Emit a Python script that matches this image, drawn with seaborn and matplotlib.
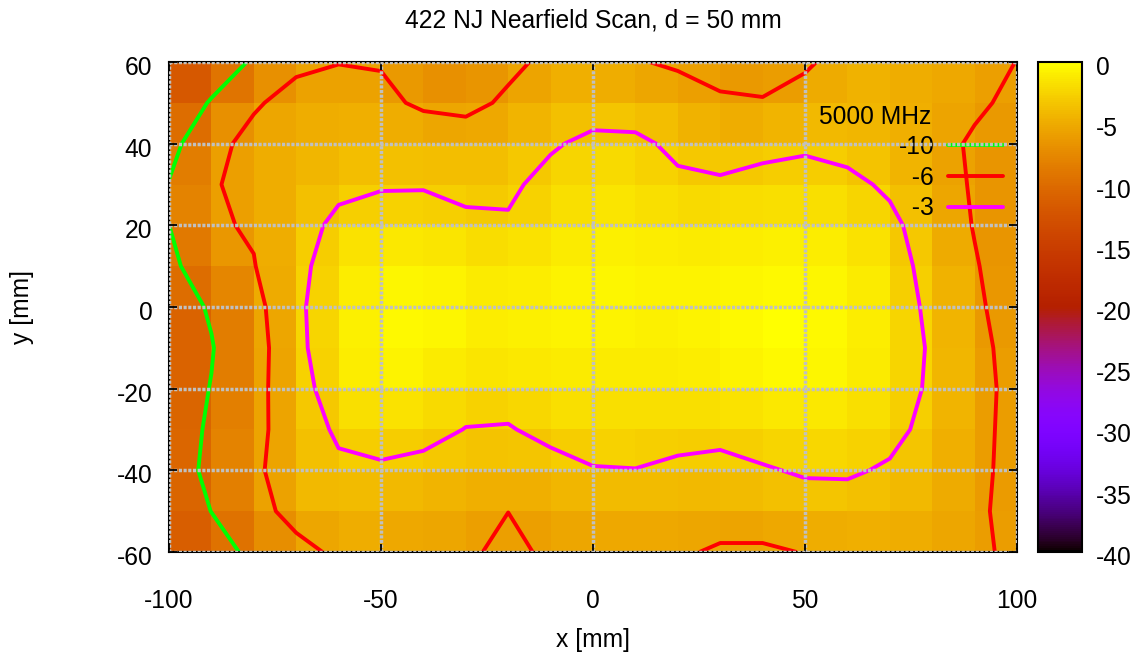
import numpy as np
import pandas as pd
import matplotlib
matplotlib.use("Agg")
import matplotlib.pyplot as plt
import matplotlib.transforms as mtransforms
from matplotlib.lines import Line2D
import seaborn as sns

# scan positions in mm (columns left->right, rows top->bottom)
x_mm = [-100, -90, -80, -70, -60, -50, -40, -30, -20, -10, 0,
        10, 20, 30, 40, 50, 60, 70, 80, 90, 100]
y_mm = [60, 50, 40, 30, 20, 10, 0, -10, -20, -30, -40, -50, -60]

# relative level in dB at each scan point, one list per y row
level_y60 = [-14.5, -11.5, -9.7, -6.4, -6.05, -6.2, -7.2, -7.3, -6.7, -5.3, -4.9,
             -5.8, -6.4, -7.0, -7.2, -6.5, -4.65, -4.9, -5.0, -5.4, -6.03]
level_y50 = [-11.8, -9.8, -6.23, -5.32, -5.2, -5.3, -6.5, -6.9, -5.47, -4.7, -4.3,
             -4.6, -4.58, -5.61, -5.8, -4.65, -4.5, -4.6, -5.0, -5.68, -6.44]
level_y40 = [-11.46, -6.59, -5.41, -4.8, -4.3, -4.0, -4.0, -4.25, -4.1, -3.31, -2.36,
             -2.38, -3.65, -4.34, -3.74, -3.33, -3.83, -4.4, -5.3, -6.27, -7.0]
level_y30 = [-9.8, -6.25, -5.2, -4.5, -3.6, -3.2, -3.2, -3.6, -3.49, -2.16, -1.6,
             -1.8, -2.45, -2.6, -2.2, -2.2, -2.4, -3.4, -4.89, -6.24, -7.2]
level_y20 = [-10.02, -6.3, -5.77, -4.07, -2.4, -1.95, -1.77, -2.51, -2.7, -1.9, -1.3,
             -1.2, -1.6, -1.7, -1.3, -1.2, -1.5, -2.42, -4.28, -6.13, -7.3]
level_y10 = [-10.78, -8.0, -6.1, -3.88, -1.37, -0.7, -0.6, -1.2, -1.3, -0.9, -0.6,
             -0.6, -0.9, -0.8, -0.5, -0.5, -0.8, -1.94, -3.87, -5.8, -7.5]
level_y0 = [-11.5, -9.69, -6.99, -3.45, -1.5, -0.4, -0.3, -0.9, -1.2, -0.7, -0.5,
            -0.7, -0.8, -0.4, -0.2, -0.1, -0.5, -1.63, -3.56, -5.48, -7.41]
level_ym10 = [-11.8, -10.17, -7.31, -3.67, -1.2, -0.5, -0.4, -0.8, -1.0, -0.8, -0.7,
              -0.8, -0.9, -0.5, -0.2, -0.1, -0.6, -1.44, -3.32, -5.18, -7.04]
level_ym20 = [-11.6, -9.9, -6.93, -4.18, -1.5, -1.0, -1.0, -2.22, -1.93, -1.5, -1.4,
              -1.5, -1.4, -1.2, -0.8, -0.6, -0.9, -1.7, -3.41, -5.12, -6.81]
level_ym30 = [-11.6, -9.57, -6.76, -4.56, -2.56, -2.2, -2.4, -3.05, -3.175, -2.3, -2.0,
              -2.2, -2.2, -2.3, -2.0, -1.9, -2.0, -2.28, -3.78, -5.28, -6.78]
level_ym40 = [-11.8, -9.19, -6.62, -4.2, -3.52, -3.27, -3.55, -3.9, -4.0, -3.89, -3.12,
              -3.04, -3.45, -3.7, -3.18, -2.78, -2.69, -3.29, -4.3, -5.5, -6.64]
level_ym50 = [-11.6, -9.97, -7.35, -4.75, -4.3, -4.8, -5.0, -5.2, -5.99, -5.2, -5.0,
              -4.8, -4.7, -4.58, -4.58, -3.94, -4.1, -4.3, -4.8, -5.6, -6.71]
level_ym60 = [-12.5, -11.0, -9.46, -7.11, -5.32, -5.4, -5.5, -5.8, -6.3, -5.78, -5.6,
              -5.6, -5.58, -6.4, -6.4, -5.9, -5.5, -5.3, -5.4, -5.7, -6.33]

contour_levels = [-10, -6, -3]
contour_colors = ["#00ff00", "#ff0000", "#ff00ff"]
legend_labels = ["-10", "\u2007-6", "\u2007-3"]
legend_title = "5000 MHz"
x_ticks = [-100, -50, 0, 50, 100]
y_ticks = [60, 40, 20, 0, -20, -40, -60]
cbar_ticks = [0, -5, -10, -15, -20, -25, -30, -35, -40]

grid = np.array([level_y60, level_y50, level_y40, level_y30, level_y20, level_y10,
                 level_y0, level_ym10, level_ym20, level_ym30, level_ym40,
                 level_ym50, level_ym60])
# pm3d style: each quad gets the mean of its four corners
cells = (grid[:-1, :-1] + grid[1:, :-1] + grid[:-1, 1:] + grid[1:, 1:]) / 4.0
cell_df = pd.DataFrame(cells)

# heatmap uses index coordinates, so map mm -> index
dx = x_mm[1] - x_mm[0]
dy = y_mm[0] - y_mm[1]
xi = (np.array(x_mm) - x_mm[0]) / dx
yi = (y_mm[0] - np.array(y_mm)) / dy

sns.set_style("white")
plt.rcParams["font.family"] = ["Liberation Sans", "DejaVu Sans"]
plt.rcParams["axes.unicode_minus"] = False
for k in ["text.color", "axes.labelcolor", "xtick.color", "ytick.color"]:
    plt.rcParams[k] = "black"
FS = 17.7

W, H = 1139, 657
fig = plt.figure(figsize=(W / 100, H / 100), dpi=100)
ax = fig.add_axes([169 / W, 1 - 552 / H, 848 / W, 490 / H])
cax = fig.add_axes([1038 / W, 1 - 552 / H, 44 / W, 490 / H])

sns.heatmap(cell_df, ax=ax, cbar_ax=cax, cmap="gnuplot", vmin=-40, vmax=0,
            linewidths=0, xticklabels=False, yticklabels=False)

ax.contour(xi, yi, grid, levels=contour_levels, colors=contour_colors,
           linewidths=2.8, zorder=2)

ax.set_xticks([(t - x_mm[0]) / dx for t in x_ticks])
ax.set_xticklabels([str(t) for t in x_ticks], rotation=0)
ax.set_yticks([(y_mm[0] - t) / dy for t in y_ticks])
ax.set_yticklabels([str(t) for t in y_ticks], rotation=0)
ax.tick_params(axis="x", direction="in", length=6, width=1.3, color="black",
               top=True, bottom=True, labelsize=FS, pad=27)
ax.tick_params(axis="y", direction="in", length=6, width=1.3, color="black",
               left=True, right=True, labelsize=FS, pad=12)

ax.grid(True, color="#c0c0c0", linewidth=2.5, linestyle=(0, (0.9, 0.45)))
ax.set_axisbelow(False)
for s in ax.spines.values():
    s.set_visible(True)
    s.set_color("black")
    s.set_linewidth(1.5)

ax.set_title("422 NJ Nearfield Scan, d = 50 mm", fontsize=FS, pad=25)
ax.set_xlabel("x [mm]", fontsize=FS)
ax.set_ylabel("y [mm]", fontsize=FS)
ax.xaxis.label.set_va("center")
ax.xaxis.set_label_coords(0.5, (552 - 640) / 490)
ax.yaxis.label.set_va("center")
ax.yaxis.set_label_coords((22 - 169) / 848, 0.5)

# key sits under the grid, like gnuplot's "grid front"
handles = [Line2D([], [], color=c, lw=2.8) for c in contour_colors]
leg = ax.legend(handles, legend_labels, loc="upper right",
                bbox_to_anchor=((1003 - 169) / 848, (552 - 135) / 490),
                frameon=False, markerfirst=False, handlelength=2.25,
                handletextpad=0.55, labelspacing=0.27, borderpad=0,
                borderaxespad=0, fontsize=FS)
leg.set_zorder(2.2)
ax.text((931 - 169) / 848, (552 - 117) / 490, legend_title, transform=ax.transAxes,
        ha="right", va="center", fontsize=FS, zorder=2.2)

cbar = ax.collections[0].colorbar
cbar.set_ticks(cbar_ticks)
cbar.set_ticklabels([str(t) for t in cbar_ticks])
cbar.ax.tick_params(direction="in", left=True, right=True, length=5, width=1.3,
                    color="black", labelsize=FS, pad=10)
cbar.outline.set_visible(True)
cbar.outline.set_edgecolor("black")
cbar.outline.set_linewidth(1.5)

# gnuplot sits its vertical tick labels a few pixels below the tick
shift = mtransforms.ScaledTranslation(0, -3.5 / 100, fig.dpi_scale_trans)
for lbl in ax.get_yticklabels() + cbar.ax.get_yticklabels():
    lbl.set_transform(lbl.get_transform() + shift)

fig.savefig("out.png", dpi=100)
